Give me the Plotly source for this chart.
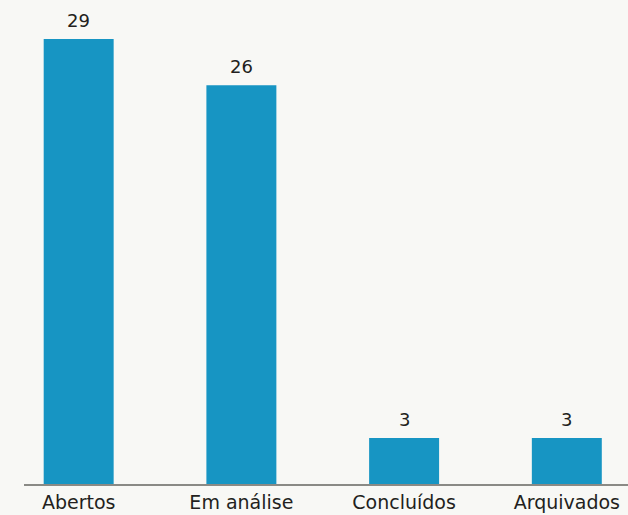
import plotly.graph_objects as go

categories = ["Abertos", "Em análise", "Concluídos", "Arquivados"]
values = [29, 26, 3, 3]

BAR = "#1795c3"
BG = "#f8f8f5"
TXT = "#231f20"
FONT = "DejaVu Sans"

fig = go.Figure(go.Bar(
    x=categories, y=values, marker=dict(color=BAR, line=dict(width=0)),
    width=0.43, hoverinfo="skip",
))

for c, v in zip(categories, values):
    fig.add_annotation(x=c, y=v, text=str(v), showarrow=False, yanchor="bottom",
                       yshift=6, font=dict(family=FONT, size=18, color=TXT))

fig.update_layout(
    width=628, height=515,
    margin=dict(l=24, r=0, t=0, b=31),
    paper_bgcolor=BG, plot_bgcolor=BG,
    showlegend=False,
    xaxis=dict(range=[-0.336, 3.376], showline=True, linecolor="#8a8a85", linewidth=1.5,
               ticks="", showgrid=False, zeroline=False, ticklabelstandoff=0,
               automargin=False,
               tickfont=dict(family=FONT, size=19, color=TXT)),
    yaxis=dict(range=[0, 31.55], visible=False, showgrid=False, zeroline=False,
               automargin=False),
)

fig.write_html("out.html", config={"displayModeBar": False},
               post_script="document.body.style.margin='0';document.body.style.overflow='hidden';document.body.style.background='%s';" % BG)
